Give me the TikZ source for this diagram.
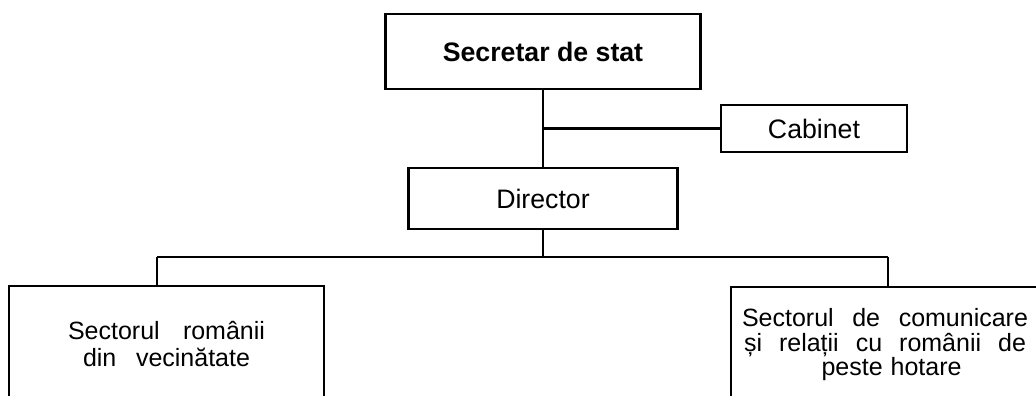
\documentclass[tikz,border=0pt]{standalone}
\usepackage{fontspec}
\setmainfont{Liberation Sans}
\begin{document}
\begin{tikzpicture}[x=1pt,y=1pt,
  box/.style={draw, line width=2.5pt, inner sep=0pt, align=center},
  conn/.style={line width=2.5pt},
  bigfont/.style={font=\fontsize{26.7}{30}\selectfont}]
\useasboundingbox (0,0) rectangle (1036,396);
\clip (0,0) rectangle (1036,396);
\node[box, bigfont, font=\fontsize{26.7}{30}\selectfont\bfseries, minimum width=315pt, minimum height=75pt] (sec) at (543,344.5) {Secretar de stat};
\node[box, bigfont, minimum width=186pt, minimum height=47pt] (cab) at (814,267.5) {Cabinet};
\node[box, bigfont, minimum width=269pt, minimum height=61pt] (dir) at (543,197.5) {Director};
\node[box, font=\fontsize{25}{27}\selectfont, minimum width=315pt, minimum height=116pt] (left) at (166.5,52)
  {\makebox[197pt][s]{Sectorul românii}\\\makebox[167pt][s]{din vecinătate}};
\node[box, font=\fontsize{25}{24.5}\selectfont, minimum width=308pt, minimum height=116pt] (right) at (885,51)
  {\makebox[286pt][s]{Sectorul de comunicare}\\\makebox[282pt][s]{și relații cu românii de}\\\makebox[286pt]{\hspace{13pt}\makebox[140pt][s]{peste hotare}}};
\coordinate (jl) at (157,139);
\coordinate (jr) at (888,139);
\draw[conn] (sec.south) -- (dir.north);
\draw[conn] (sec.south |- cab.west) -- (cab.west);
\draw[conn] (dir.south) -- (dir.south |- jl);
\draw[conn] (jl) -- (jr);
\draw[conn] (jl) -- (jl |- left.north);
\draw[conn] (jr) -- (jr |- right.north);
\end{tikzpicture}
\end{document}
